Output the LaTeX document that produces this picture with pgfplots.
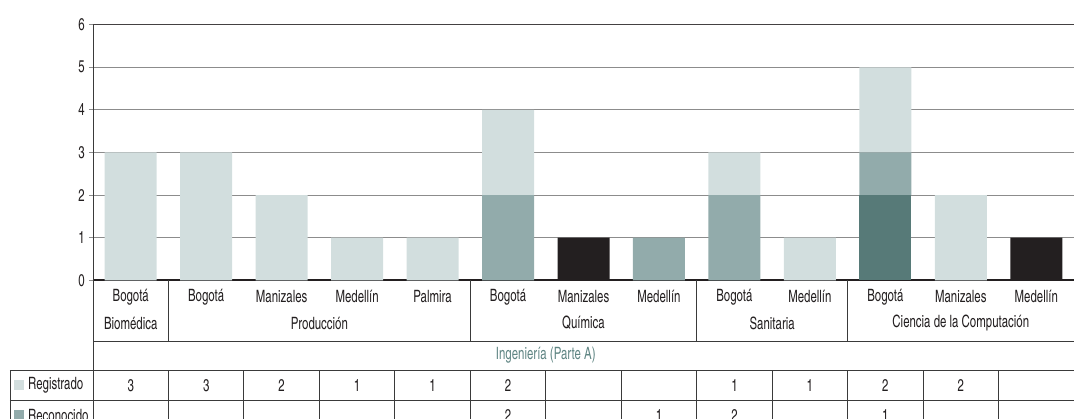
\documentclass[border=0pt]{standalone}
\usepackage{pgfplots}
\usepackage{pgfplotstable}
\pgfplotsset{compat=1.18}
\usepackage{fontspec}
\setmainfont{TeX Gyre Heros Cn}[FakeStretch=0.82]

\definecolor{reg}{HTML}{D2DEDE}
\definecolor{rec}{HTML}{92ABAB}
\definecolor{ter}{HTML}{577A78}
\definecolor{neg}{HTML}{231F20}
\definecolor{titc}{HTML}{5F8583}
\definecolor{linec}{HTML}{3A3A3A}
\definecolor{gridc}{HTML}{8C8C8C}

% x: 0 Biomedica, 1-4 Produccion, 5-7 Quimica, 8-9 Sanitaria, 10-12 Computacion
\pgfplotstableread{
x reg rec ter neg
0  3 0 0 0
1  3 0 0 0
2  2 0 0 0
3  1 0 0 0
4  1 0 0 0
5  2 2 0 0
6  0 0 0 1
7  0 1 0 0
8  1 2 0 0
9  1 0 0 0
10 2 1 2 0
11 2 0 0 0
12 0 0 0 1
}\datos

\newcommand{\cx}[1]{\fpeval{75.4615*(#1+0.5)}pt}
\newcommand{\fnt}{\fontsize{17}{19}\selectfont}

\begin{document}
\begin{tikzpicture}[font=\fnt, text=neg]
\path[use as bounding box] (-93pt,-138.7pt) rectangle (981pt,280.3pt);
\clip (-93pt,-138.7pt) rectangle (981pt,280.3pt);
\begin{axis}[
    scale only axis,
    width=981pt, height=255.6pt,
    xmin=-0.5, xmax=12.5,
    ymin=0, ymax=6,
    ybar stacked,
    bar width=52pt,
    xtick=\empty,
    ytick={0,1,2,3,4,5,6},
    axis x line*=bottom,
    axis y line*=left,
    x axis line style={-, line width=2pt, draw=neg},
    y axis line style={-, line width=0.9pt, draw=linec},
    tick align=outside,
    major tick length=4pt,
    tick style={draw=gridc, line width=1pt},
    ymajorgrids,
    grid style={draw=gridc, line width=1pt},
    /pgf/number format/assume math mode=true,
    yticklabel style={font=\fnt, text=neg, inner sep=4pt},
    clip=false,
]
\addplot[fill=neg, draw=none] table[x=x, y=neg] {\datos};
\addplot[fill=ter, draw=none] table[x=x, y=ter] {\datos};
\addplot[fill=rec, draw=none] table[x=x, y=rec] {\datos};
\addplot[fill=reg, draw=none] table[x=x, y=reg] {\datos};
\draw[neg!85, line width=1.6pt] (axis cs:-0.5,6) -- (axis cs:12.5,6);
\end{axis}

% tabla de datos bajo el eje
\begin{scope}[draw=linec, line width=0.9pt]
\draw (0,0) -- (0,-140pt);
\foreach \b in {0,4,7,9} \draw ({\cx{\b}+37.73pt},0) -- ({\cx{\b}+37.73pt},-60.7pt);
\draw (0,-60.7pt) -- (985pt,-60.7pt);
\draw (-83pt,-90.2pt) -- (985pt,-90.2pt);
\draw (-83pt,-119.7pt) -- (985pt,-119.7pt);
\draw (-83pt,-90.2pt) -- (-83pt,-140pt);
\foreach \b in {0,...,11} \draw ({\cx{\b}+37.73pt},-90.2pt) -- ({\cx{\b}+37.73pt},-140pt);
\end{scope}

\foreach \c [count=\i from 0] in {Bogotá,Bogotá,Manizales,Medellín,Palmira,Bogotá,Manizales,Medellín,Bogotá,Medellín,Bogotá,Manizales,Medellín}
  \node at (\cx{\i},-16.5pt) {\c};
\node at (\cx{0},-42.7pt) {Biomédica};
\node at (\cx{2.5},-42.7pt) {Producción};
\node at (\cx{6},-42.7pt) {Química};
\node at (\cx{8.5},-42.7pt) {Sanitaria};
\node at (\cx{11},-42.7pt) {Ciencia de la Computación};
\node[text=titc] at (\cx{5.5},-75pt) {Ingeniería (Parte A)};

\fill[reg] (-79pt,-110pt) rectangle (-69pt,-100pt);
\node[anchor=west, inner sep=0pt] at (-65pt,-105pt) {Registrado};
\fill[rec] (-79pt,-140pt) rectangle (-69pt,-130pt);
\node[anchor=west, inner sep=0pt] at (-65pt,-135pt) {Reconocido};

\foreach \v/\i in {3/0,3/1,2/2,1/3,1/4,2/5,1/8,1/9,2/10,2/11}
  \node at (\cx{\i},-105pt) {\v};
\foreach \v/\i in {2/5,1/7,2/8,1/10}
  \node at (\cx{\i},-135pt) {\v};
\end{tikzpicture}
\end{document}
